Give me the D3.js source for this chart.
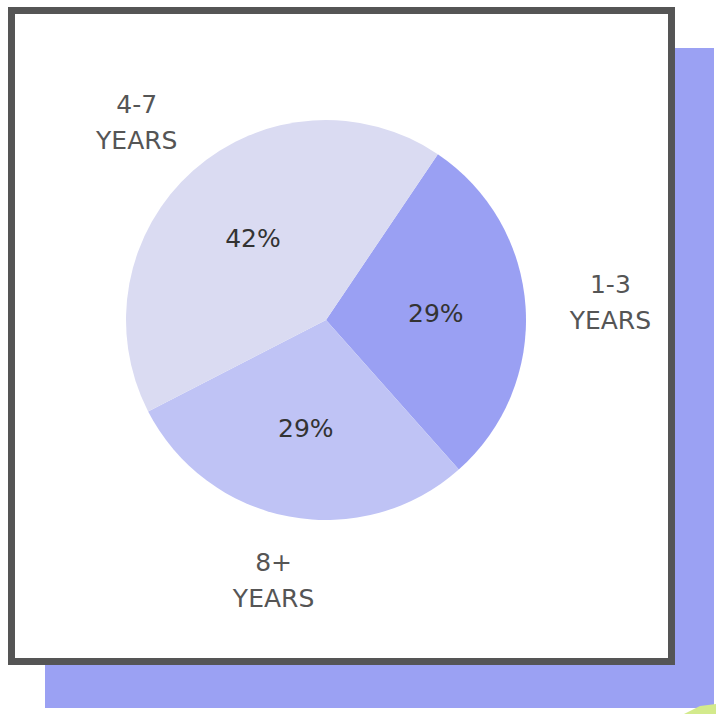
<!DOCTYPE html>
<html>
<head>
<meta charset="utf-8">
<script src="https://cdn.jsdelivr.net/npm/d3@7"></script>
<style>
  html, body { margin: 0; padding: 0; background: #fff; }
  svg { display: block; }
</style>
</head>
<body>
<svg width="716" height="714"></svg>
<script>
// Experience split shown in the card
const categories = ["1-3", "8+", "4-7"];
const percents = [29, 29, 42];
const labelLines = ["YEARS"];
const colors = ["#9aa0f3", "#bfc3f5", "#dadbf2"];

const svg = d3.select("svg");
const font = "'DejaVu Sans', sans-serif";

// Shadow card behind the white box
svg.append("rect")
    .attr("x", 45).attr("y", 48)
    .attr("width", 669).attr("height", 660)
    .attr("fill", "#9ba1f3");

// small green corner decoration
svg.append("path")
    .attr("d", "M684,714 L700,706 L716,704 L716,714 Z")
    .attr("fill", "#d3ea8c");

// White card with dark border
svg.append("rect")
    .attr("x", 11.5).attr("y", 10.5)
    .attr("width", 660).attr("height", 651)
    .attr("fill", "#fff")
    .attr("stroke", "#555")
    .attr("stroke-width", 7);

const cx = 326, cy = 320, radius = 200;
const startDeg = 34;

const pie = d3.pie()
    .sort(null)
    .value(d => d)
    .startAngle(startDeg * Math.PI / 180)
    .endAngle((startDeg + 360) * Math.PI / 180);

const arcs = pie(percents);

const arc = d3.arc().innerRadius(0).outerRadius(radius);
const valueArc = d3.arc().innerRadius(110).outerRadius(110);

// outer labels sit on an ellipse round the pie
const midAngle = d => (d.startAngle + d.endAngle) / 2;
const namePos = d => [Math.sin(midAngle(d)) * 285, -Math.cos(midAngle(d)) * 265];

const g = svg.append("g").attr("transform", `translate(${cx},${cy})`);

g.selectAll("path.slice")
    .data(arcs)
    .join("path")
    .attr("class", "slice")
    .attr("d", arc)
    .attr("fill", (d, i) => colors[i]);

// Percent labels inside slices
g.selectAll("text.pct")
    .data(arcs)
    .join("text")
    .attr("class", "pct")
    .attr("transform", d => `translate(${valueArc.centroid(d)})`)
    .attr("dy", "0.36em")
    .attr("text-anchor", "middle")
    .attr("font-family", font)
    .attr("font-size", 25)
    .attr("fill", "#333")
    .text(d => d.data + "%");

// Category labels outside
const names = g.selectAll("text.name")
    .data(arcs)
    .join("text")
    .attr("class", "name")
    .attr("transform", d => `translate(${namePos(d)})`)
    .attr("text-anchor", "middle")
    .attr("font-family", font)
    .attr("font-size", 25)
    .attr("fill", "#555");

names.append("tspan")
    .attr("x", 0).attr("y", -9)
    .text((d, i) => categories[i]);
names.append("tspan")
    .attr("x", 0).attr("y", 27)
    .text(labelLines[0]);
</script>
</body>
</html>
